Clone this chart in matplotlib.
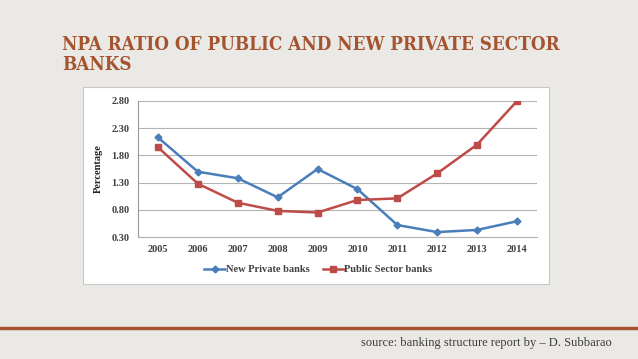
import matplotlib
matplotlib.use('Agg')
import matplotlib.pyplot as plt
from matplotlib.patches import Rectangle
from matplotlib.lines import Line2D

# data
years = ['2005', '2006', '2007', '2008', '2009', '2010', '2011', '2012', '2013', '2014']
new_private = [2.13, 1.50, 1.38, 1.03, 1.55, 1.18, 0.52, 0.39, 0.43, 0.59]
public_sector = [1.95, 1.28, 0.93, 0.78, 0.75, 0.98, 1.01, 1.47, 2.00, 2.80]
yticks = [0.30, 0.80, 1.30, 1.80, 2.30, 2.80]

W, H = 638, 359
bg = '#ebe9e6'
brown = '#a4552f'
blue = '#4a7ebb'
red = '#be4b48'

fig = plt.figure(figsize=(W / 100, H / 100), dpi=100, facecolor=bg)

def fx(px):
    return px / W

def fy(py):
    return 1 - py / H

# white chart picture behind the axes
fig.patches.append(Rectangle((fx(83), fy(284)), fx(549) - fx(83), fy(87) - fy(284),
                             transform=fig.transFigure, facecolor='white',
                             edgecolor='#c8c8c8', lw=0.8, zorder=-5))

# title
for txt, ypos in [('NPA RATIO OF PUBLIC AND NEW PRIVATE SECTOR', 44.5), ('BANKS', 64.5)]:
    fig.text(fx(62), fy(ypos), txt, color=brown,
             family='DejaVu Serif', fontstretch='condensed', fontweight='bold', fontsize=13.5,
             va='center', ha='left')

# brown rule
fig.add_artist(Line2D([0, 1], [fy(328), fy(328)], transform=fig.transFigure,
                      color=brown, lw=2.5))

fig.text(fx(486), fy(343), 'source: banking structure report by \u2013 D. Subbarao',
         color='#3c3c3c', family='Liberation Serif', fontsize=9, ha='center', va='center')

ax = fig.add_axes([fx(138), fy(237), fx(537) - fx(138), fy(101) - fy(237)])
ax.set_facecolor('white')
x = list(range(len(years)))
ax.plot(x, new_private, color=blue, lw=1.8, marker='D', ms=3.5, label='New Private banks')
ax.plot(x, public_sector, color=red, lw=1.8, marker='s', ms=4.5, label='Public Sector banks')

ax.set_xlim(-0.5, 9.5)
ax.set_ylim(0.30, 2.80)
ax.set_yticks(yticks)
ax.set_yticklabels(['%.2f' % v for v in yticks])
ax.set_xticks(x)
ax.set_xticklabels(years)
ax.grid(axis='y', color='#b4b4b4', lw=0.8)
ax.set_axisbelow(True)
for s in ['top', 'right']:
    ax.spines[s].set_visible(False)
ax.spines['left'].set_color('#9a9a9a')
ax.spines['bottom'].set_color('#b4b4b4')
ax.tick_params(length=0, labelsize=7.5, labelcolor='#404040', pad=6)
for lab in ax.get_xticklabels() + ax.get_yticklabels():
    lab.set_family('Liberation Serif')
    lab.set_fontweight('bold')
ax.set_ylabel('Percentage', family='Liberation Serif', fontweight='bold', fontsize=7.5,
              color='#222222', labelpad=6)

leg = ax.legend(loc='center', bbox_to_anchor=(0.452, -0.24), ncol=2, frameon=False,
                prop={'family': 'Liberation Serif', 'weight': 'bold', 'size': 7.5},
                handlelength=2.0, columnspacing=1.3, handletextpad=0.05)
for t in leg.get_texts():
    t.set_color('#404040')

fig.savefig('out.png', dpi=100, facecolor=bg)
